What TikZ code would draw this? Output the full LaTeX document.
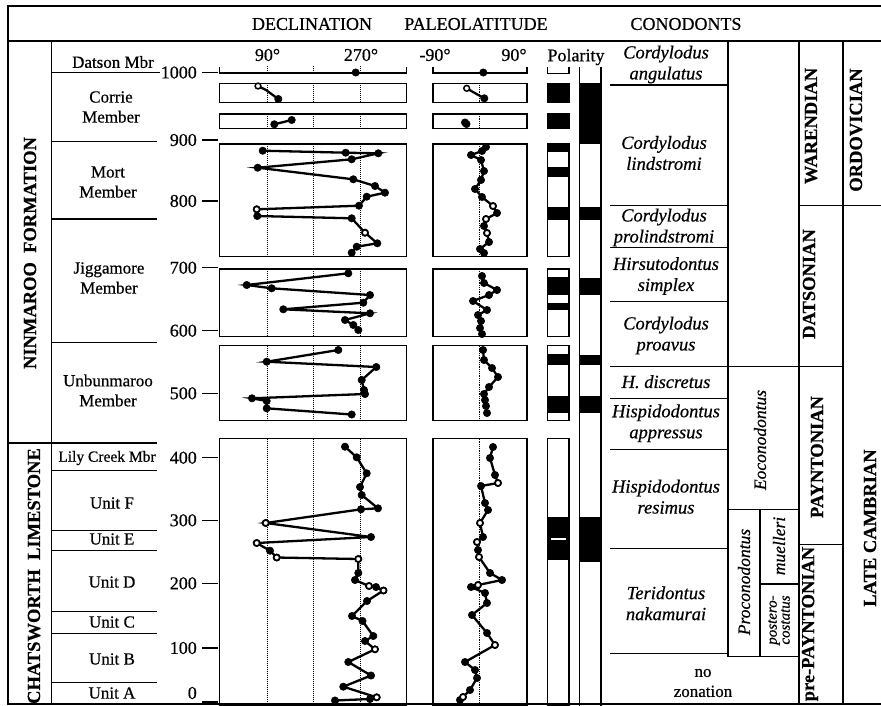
\documentclass[tikz,border=0pt]{standalone}
\usepackage{fontspec}
\setmainfont{Liberation Serif}[FakeBold=0.5]
\begin{document}
\begin{tikzpicture}[x=1pt,y=-1pt,
  frame/.style={line width=1.6pt},
  thinl/.style={line width=1.4pt},
  dotl/.style={densely dotted,line width=1pt},
  dl/.style={line width=2.3pt,mark size=3.7pt,mark options={solid,line width=0.5pt,fill=black}},
  pto/.style={draw,fill=white,line width=1.5pt},
  txt/.style={inner sep=0pt},
  hdr/.style={txt,font=\fontsize{18}{20}\selectfont},
  mem/.style={txt,align=center,font=\fontsize{17}{20}\selectfont},
  num/.style={txt,font=\fontsize{18}{20}\selectfont},
  spc/.style={txt,align=center,font=\itshape\fontsize{18.5}{21}\selectfont},
  bb/.style={txt,rotate=90,font=\bfseries\fontsize{18.5}{20}\selectfont},
  rit/.style={txt,rotate=90,align=center,font=\itshape\fontsize{17.5}{20}\selectfont},
  sit/.style={txt,rotate=90,align=center,font=\itshape\fontsize{15}{13}\selectfont}]
\useasboundingbox (0,0) rectangle (881,705);
\fill[white] (0,0) rectangle (881,705);

% ---------- frame ----------
\draw[frame] (881,6) -- (8,6) -- (8,705);
\draw[frame] (8,40.7) -- (881,40.7);
\draw[frame] (8,704.2) -- (881,704.2);
\draw[frame] (51.5,40.7) -- (51.5,705);

% ---------- header ----------
\node[hdr] (hdec) at (312,24) {DECLINATION};
\node[hdr] (hpal) at (476,24) {PALEOLATITUDE};
\node[hdr] (hcon) at (686,24) {CONODONTS};

% ---------- formation / member columns ----------
\node[bb] (ninm) at (30,253) {NINMAROO\ \ FORMATION};
\node[bb] (chat) at (34,576) {CHATSWORTH\ \ LIMESTONE};
\draw[thinl] (8,443) -- (157,443);
\foreach \yy in {141.5,219,342.7,470.7,530.7,550.7,611.7,633.3,682.7}
  \draw[thinl] (52,\yy) -- (157,\yy);
\draw[thinl] (52,72.5) -- (160,72.5);

\node[mem] (mdat) at (113,62) {Datson Mbr};
\node[mem] (mcor) at (111,107) {Corrie\\Member};
\node[mem] (mmor) at (108,182) {Mort\\Member};
\node[mem] (mjig) at (109,278) {Jiggamore\\Member};
\node[mem] (munb) at (108,390.5) {Unbunmaroo\\Member};
\node[mem,font=\fontsize{15.5}{20}\selectfont] (mlil) at (107,458) {Lily Creek Mbr};
\node[mem] (muf) at (112,503) {Unit F};
\node[mem] (mue) at (112,539) {Unit E};
\node[mem] (mud) at (112,582) {Unit D};
\node[mem] (muc) at (112,622) {Unit C};
\node[mem] (mub) at (112,659) {Unit B};
\node[mem] (mua) at (112,693) {Unit A};

% ---------- depth scale ----------
\foreach \v/\yy in {1000/72.5,900/140,800/201,700/267.7,600/330.7,500/393.3,400/457.7,300/520.3,200/583.3,100/648}{
  \draw[thinl] (202,\yy) -- (218,\yy);
  \node[num,anchor=east] (d\v) at (197,\yy) {\v};
}
\draw[thinl] (202,702) -- (218,702);
\node[num,anchor=east] (d0) at (197,693) {0};

% ---------- declination ----------
\node[num] (s90) at (267.5,55) {90°};
\node[num] (s270) at (361,55) {270°};
\draw[thinl] (219.5,67) -- (219.5,73) -- (406.5,73) -- (406.5,67);
\foreach \xx in {267,313,360} \draw[dotl] (\xx,66) -- (\xx,72.5);
\foreach \a/\b in {83.3/102.3,114/128.7,144/256.3,269/336.7,345.7/420.7,438.7/706}{
  \foreach \xx in {267,313,360} \draw[dotl] (\xx,\a) -- (\xx,\b);
  \draw[thinl] (219.5,\a) rectangle (406.5,\b);
}
% Datson
\draw[dl] plot[mark=*] coordinates {(355.7,72.5)};
% Corrie
\draw[dl] (258,86) -- (266,90) -- (278.3,99);
\draw[dl] plot[mark=*] coordinates {(278.3,99)};
\draw[pto] (258,86) circle (2.9pt);
\draw[dl] plot[mark=*] coordinates {(274.3,124.3) (291.7,120)};
% Mort
\draw[dl] plot[mark=*] coordinates {(262.7,150.7) (345.7,152.7) (378.3,153.3) (351.7,159.3) (257.7,167.7) (353.3,179.3) (375,186) (385,192.7) (366.7,196.7) (359,205.7) (256.7,209.3) (257.3,216) (351.7,218.3) (365,232.7) (377.3,243.3) (356.7,246.7) (351.7,252.7)};
\foreach \p in {(256.7,209.3),(365,232.7)} \draw[pto] \p circle (2.9pt);
% Jiggamore
\draw[dl] plot[mark=*] coordinates {(348.3,273.3) (246.7,285) (271.7,288.3) (370,295) (363.3,302.7) (283.3,309.3) (370,313.3) (345,320) (353.3,325) (358.3,330)};
% Unbunmaroo
\draw[dl] plot[mark=*] coordinates {(338.3,350) (266.7,361.7) (376.3,367) (361.7,380) (364,390) (365,394) (252,398.3) (266.7,401) (266.7,408.3) (351.7,414.5)};
% Chatsworth
\draw[dl] plot[mark=*] coordinates {(345,446.7) (356.7,457.3) (366.7,473.3) (360,487) (361.7,495) (378,508.3) (361,509.3) (265.7,523) (371,537) (256.7,543) (270,550.7) (276.7,557.5) (358.3,559) (358.3,573) (355,580) (369,586) (376,587) (383.5,590.5) (367,601) (352,616) (362.5,621) (373.3,636) (365,641) (375,649.3) (348.3,662) (371,675.5) (343.3,686.7) (376.7,697.3) (370,699) (335,700.5)};
\foreach \p in {(265.7,523),(256.7,543),(276.7,557.5),(358.3,559),(369,586),(383.5,590.5),(375,649.3),(376.7,697.3)} \draw[pto] \p circle (2.9pt);

% ---------- paleolatitude ----------
\node[num] (pm90) at (435,55) {-90°};
\node[num] (pp90) at (514,55) {90°};
\draw[thinl] (433,67) -- (433,73) -- (527,73) -- (527,67);
\foreach \a/\b in {83.3/102.3,114/128.7,144/256.3,269/336.7,345.7/420.7,438.7/706}{
  \draw[dotl,line width=0.8pt] (479,\a) -- (479,\b);
  \draw[thinl] (433,\a) rectangle (527,\b);
}
\draw[dl] plot[mark=*] coordinates {(483.3,72.5)};
\draw[dl] (466.7,88.3) -- (473,92) -- (484.3,98.3);
\draw[dl] plot[mark=*] coordinates {(484.3,98.3)};
\draw[pto] (466.7,88.3) circle (2.9pt);
\draw[dl] plot[mark=*] coordinates {(465,122.5) (466.5,124)};
\draw[dl] plot[mark=*] coordinates {(486,147) (482,151) (471,155) (481,160) (484,171) (481,180) (475,189) (482,197) (493,206) (497,213) (486,219) (484,226) (487,233) (489,242) (480,249) (484,253)};
\foreach \p in {(493,206),(486,219),(487,233)} \draw[pto] \p circle (2.9pt);
\draw[dl] plot[mark=*] coordinates {(482,276) (484,283) (497,290) (489,295) (473,301) (487,310) (478,315) (481,321) (480,328) (482,334)};
\draw[dl] plot[mark=*] coordinates {(483,350) (484,360) (492,368) (498,377) (489,387) (484,394) (485,400) (486,406) (487,413)};
\draw[dl] plot[mark=*] coordinates {(493,447) (490,458) (495,475) (498,483) (481,486) (485,503) (488,510) (480,523) (483,537) (477,542) (478,550) (479,557) (490,573) (502,580) (478,585) (471,587) (485,593) (487,603) (472,615) (487,633) (495,645) (465,662) (475,670) (477,678) (470,690) (463,697) (460,700)};
\foreach \p in {(498,483),(480,523),(477,542),(479,557),(478,585),(495,645),(463,697)} \draw[pto] \p circle (2.9pt);

% ---------- polarity ----------
\node[hdr] (pol) at (576,57) {Polarity};
\draw[thinl] (547.7,67) -- (547.7,73.5) -- (569,73.5) -- (569,67);
\foreach \a/\b in {83.3/102.3,114/128.7,144/151.7,166.7/176.7,206.7/220,277/295,303/310,354/365,395.7/412.7,517.3/560}
  \fill (547.7,\a) rectangle (569,\b);
\fill[white] (550.5,538.2) rectangle (566.2,540);
\foreach \a/\b in {83.3/102.3,114/128.7,144/256.3,269/336.7,345.7/420.7,438.7/706}
  \draw[thinl] (547.7,\a) rectangle (569,\b);
\foreach \a/\b in {83.3/144,206.7/220,278.3/295,355/365,395.7/412.7,517.3/561.7}
  \fill (579.3,\a) rectangle (601,\b);
\draw[thinl] (579.3,67) -- (579.3,706);
\draw[thinl] (601,67) -- (601,706);

% ---------- conodont / stage columns ----------
\draw[frame] (728,40.7) -- (728,656.7);
\draw[frame] (799,40.7) -- (799,705);
\draw[frame] (843,40.7) -- (843,705);
\foreach \yy in {85,205.7,247.3,301.7,398.3,449.3,548.3,653.3}
  \draw[thinl] (610,\yy) -- (728,\yy);
\draw[thinl] (610,366.7) -- (843,366.7);
\draw[thinl] (799,205.7) -- (881,205.7);
\draw[thinl] (728,509.3) -- (799,509.3);
\draw[thinl] (760,509.3) -- (760,656.7);
\draw[thinl] (760,584) -- (799,584);
\draw[thinl] (728,656.7) -- (799,656.7);
\draw[thinl] (799,544.3) -- (843,544.3);

\node[spc] (zang) at (666,64.5) {Cordylodus\\angulatus};
\node[spc] (zlin) at (664,153) {Cordylodus\\lindstromi};
\node[spc] (zpro) at (664,227.5) {Cordylodus\\prolindstromi};
\node[spc] (zsim) at (666,276) {Hirsutodontus\\simplex};
\node[spc] (zpra) at (666,335.5) {Cordylodus\\proavus};
\node[spc] (zdis) at (666,381.7) {H. discretus};
\node[spc] (zapp) at (666,423.3) {Hispidodontus\\appressus};
\node[spc] (zres) at (666,496.7) {Hispidodontus\\resimus};
\node[spc] (znak) at (666,603.3) {Teridontus\\nakamurai};
\node[mem] (znon) at (703,683) {no\\zonation};

\node[rit] (eoc) at (760,440) {Eoconodontus};
\node[rit] (proc) at (744,582) {Proconodontus};
\node[rit] (muel) at (779,546) {muelleri};
\node[sit] (post) at (779,620) {postero-\\costatus};

\node[bb] (war) at (811,126) {WARENDIAN};
\node[bb] (dat) at (809,284) {DATSONIAN};
\node[bb] (pay) at (817,457) {PAYNTONIAN};
\node[bb] (prep) at (810,624) {pre-PAYNTONIAN};
\node[bb] (ord) at (856,130) {ORDOVICIAN};
\node[bb] (lcam) at (870,528) {LATE CAMBRIAN};
\end{tikzpicture}
\end{document}
